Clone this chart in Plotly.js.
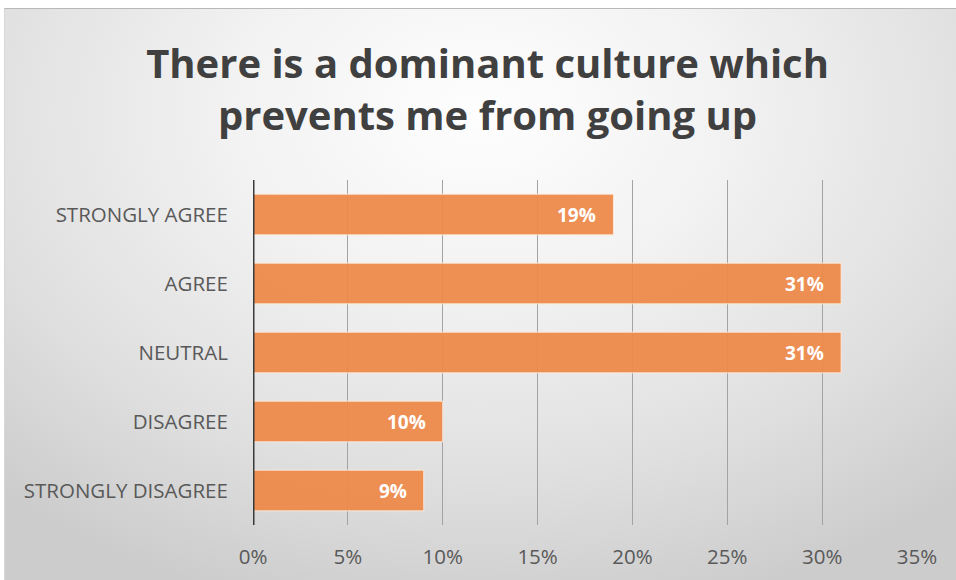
<!DOCTYPE html>
<html>
<head>
<meta charset="utf-8">
<script src="https://cdn.plot.ly/plotly-3.0.1.min.js"></script>
<style>
  html, body { margin: 0; padding: 0; background: #ffffff; width: 956px; height: 580px; overflow: hidden; }
  #bg { position: absolute; left: 4px; top: 8px; width: 952px; height: 572px;
        background: radial-gradient(ellipse 75% 90% at 50% 18%, #fefefe 0%, #f2f2f2 35%, #e0e0e0 70%, #cccccc 100%);
        border-top: 1px solid #b8b8b8; border-left: 1px solid #d8d8d8; }
  #chart { position: absolute; left: 0; top: 0; width: 956px; height: 580px; }
</style>
</head>
<body>
<div id="bg"></div>
<div id="chart"></div>
<script>
const categories = ["STRONGLY AGREE", "AGREE", "NEUTRAL", "DISAGREE", "STRONGLY DISAGREE"];
const values = [0.19, 0.31, 0.31, 0.10, 0.09];
const valueLabels = ["19%", "31%", "31%", "10%", "9%"];
const tickValues = [0, 0.05, 0.10, 0.15, 0.20, 0.25, 0.30, 0.35];
const tickLabels = ["0%", "5%", "10%", "15%", "20%", "25%", "30%", "35%"];
const chartTitle = "There is a dominant culture which<br>prevents me from going up";

const trace = {
  type: "bar",
  orientation: "h",
  y: categories,
  x: values,
  textposition: "none",
  marker: { color: "rgba(237,137,75,0.95)", line: { color: "rgba(255,235,220,0.9)", width: 1 } },
  hoverinfo: "none"
};

const labelAnnotations = categories.map((c, i) => ({
  xref: "x", yref: "y",
  x: values[i], y: c,
  text: valueLabels[i],
  showarrow: false,
  xanchor: "right", yanchor: "middle",
  xshift: -15,
  font: { family: "Open Sans, sans-serif", size: 19, color: "#ffffff", weight: "bold" }
}));

const layout = {
  width: 956, height: 580,
  margin: { l: 253, r: 39, t: 180, b: 55 },
  paper_bgcolor: "rgba(0,0,0,0)",
  plot_bgcolor: "rgba(0,0,0,0)",
  showlegend: false,
  bargap: 0.41,
  title: {
    text: chartTitle,
    x: 0.51, xanchor: "center",
    y: 0.866, yanchor: "middle",
    font: { family: "Open Sans, sans-serif", size: 40, color: "#404040", weight: "bold" }
  },
  xaxis: {
    range: [0, 0.35],
    tickvals: tickValues,
    ticktext: tickLabels,
    showgrid: true,
    gridcolor: "#a3a3a3",
    gridwidth: 1,
    zeroline: false,
    showline: false,
    ticks: "outside",
    ticklen: 13,
    tickcolor: "rgba(0,0,0,0)",
    tickfont: { family: "Open Sans, sans-serif", size: 20.5, color: "#595959" },
    fixedrange: true
  },
  yaxis: {
    categoryorder: "array",
    categoryarray: categories,
    autorange: "reversed",
    showgrid: false,
    zeroline: false,
    showline: false,
    ticks: "outside",
    ticklen: 20,
    tickcolor: "rgba(0,0,0,0)",
    tickfont: { family: "Open Sans, sans-serif", size: 20.5, color: "#595959" },
    fixedrange: true
  },
  annotations: labelAnnotations,
  shapes: [
    { type: "line", xref: "x", yref: "paper", x0: 0, x1: 0, y0: 0, y1: 1,
      line: { color: "#3a3a3a", width: 3 }, layer: "above" }
  ]
};

Plotly.newPlot("chart", [trace], layout, { displayModeBar: false, staticPlot: true });
</script>
</body>
</html>
